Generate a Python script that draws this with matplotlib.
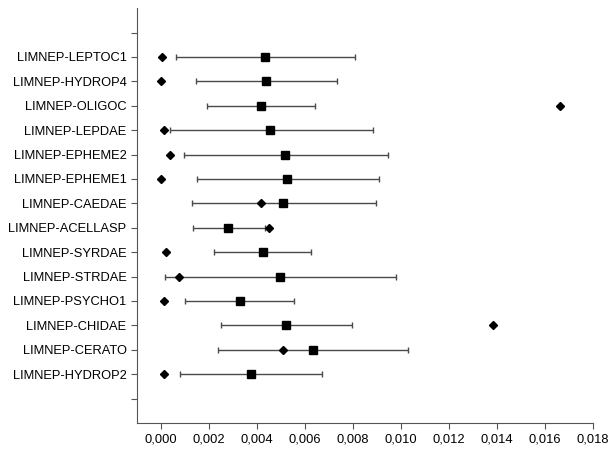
import matplotlib
matplotlib.use("Agg")
import matplotlib.pyplot as plt
import numpy as np

plt.rcParams['font.family'] = ['Liberation Sans', 'DejaVu Sans']

# categories, top to bottom
labels = ["LIMNEP-LEPTOC1", "LIMNEP-HYDROP4", "LIMNEP-OLIGOC", "LIMNEP-LEPDAE",
          "LIMNEP-EPHEME2", "LIMNEP-EPHEME1", "LIMNEP-CAEDAE", "LIMNEP-ACELLASP",
          "LIMNEP-SYRDAE", "LIMNEP-STRDAE", "LIMNEP-PSYCHO1", "LIMNEP-CHIDAE",
          "LIMNEP-CERATO", "LIMNEP-HYDROP2"]

# square = mean, with lower / upper interval ends
mean = [0.00432, 0.00437, 0.00415, 0.00456, 0.00518, 0.00526, 0.00510, 0.00280,
        0.00424, 0.00496, 0.00328, 0.00521, 0.00632, 0.00375]
lower = [0.00063, 0.00147, 0.00190, 0.00036, 0.00096, 0.00150, 0.00129, 0.00132,
         0.00222, 0.00015, 0.00101, 0.00250, 0.00239, 0.00080]
upper = [0.00810, 0.00732, 0.00643, 0.00885, 0.00947, 0.00908, 0.00894, 0.00433,
         0.00626, 0.00978, 0.00554, 0.00797, 0.01030, 0.00670]

# diamond = observed value
observed = [0.00004, 0.00000, 0.01663, 0.00011, 0.00039, 0.00000, 0.00415, 0.00449,
            0.00021, 0.00075, 0.00011, 0.01382, 0.00510, 0.00011]

mean = np.array(mean)
ypos = np.arange(1, len(labels) + 1)
err = [mean - np.array(lower), np.array(upper) - mean]

fig = plt.figure(figsize=(6.1, 4.5), dpi=100)
ax = fig.add_axes([0.2246, 0.06, 0.7475, 0.922])

ax.errorbar(mean, ypos, xerr=err, fmt='none', ecolor='#4a4a4a',
            elinewidth=1, capsize=2.3, capthick=1, zorder=2)
ax.plot(mean, ypos, 's', color='black', markersize=6, zorder=3)
ax.plot(observed, ypos, 'D', color='black', markersize=4, zorder=3)

ax.set_xlim(-0.001, 0.018)
ax.set_xticks(np.arange(0, 0.0181, 0.002))
ax.set_xticklabels([f"{v:.3f}".replace('.', ',') for v in np.arange(0, 0.0181, 0.002)])
ax.set_ylim(16, -1)
ax.set_yticks(np.arange(0, 16))
ax.set_yticklabels([""] + labels + [""])

for s in ['top', 'right']:
    ax.spines[s].set_visible(False)
for s in ['left', 'bottom']:
    ax.spines[s].set_color('#555555')
ax.tick_params(axis='both', labelsize=9.3, colors='#555555', labelcolor='black', length=4)

fig.savefig("out.png", dpi=100)
